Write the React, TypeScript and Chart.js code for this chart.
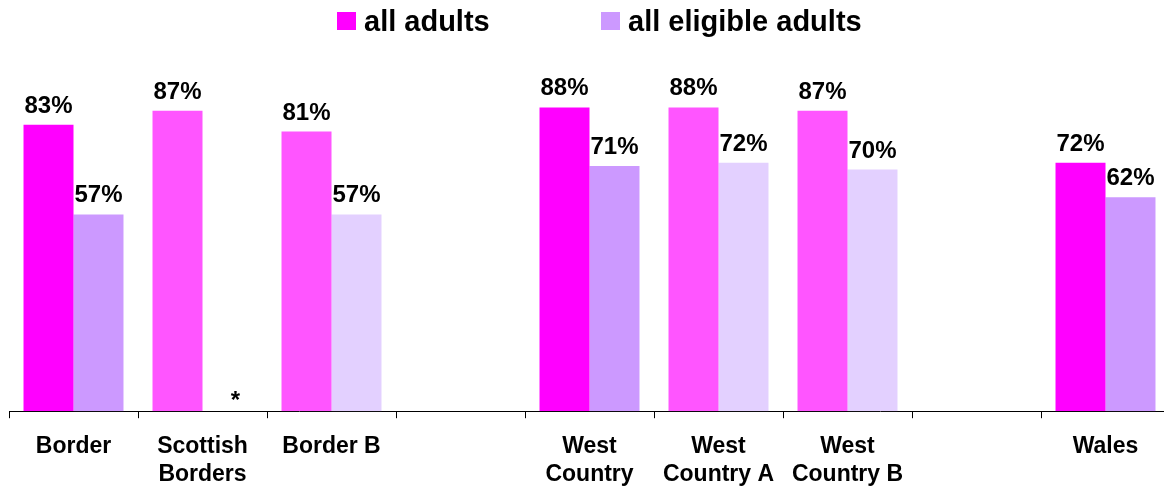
import React, { useEffect, useRef } from "react";
import { Chart, registerables } from "chart.js";

Chart.register(...registerables);

const categories: (string | string[])[] = [
  "Border",
  ["Scottish", "Borders"],
  "Border B",
  "",
  ["West", "Country"],
  ["West", "Country A"],
  ["West", "Country B"],
  "",
  "Wales",
];
const seriesNames = ["all adults", "all eligible adults"];
const allAdults: (number | null)[] = [83, 87, 81, null, 88, 88, 87, null, 72];
const eligibleAdults: (number | null)[] = [57, null, 57, null, 71, 72, 70, null, 62];
const patternedAll = [false, true, true, false, false, true, true, false, false];
const patternedEligible = [false, false, true, false, false, true, true, false, false];
const eligibleNoDataMark: (string | null)[] = [null, "*", null, null, null, null, null, null, null];

const MAGENTA = "#FF00FF";
const LAVENDER = "#CC99FF";
const MAGENTA_LIGHT = "#FF55FF";
const LAVENDER_LIGHT = "#E3D0FF";
const FONT = "'Liberation Sans', Arial, Helvetica, sans-serif";

const valueLabels = {
  id: "valueLabels",
  afterDatasetsDraw(chart: any) {
    const ctx = chart.ctx as CanvasRenderingContext2D;
    const yScale = chart.scales.y;
    ctx.save();
    ctx.font = `bold 24px ${FONT}`;
    ctx.fillStyle = "#000";
    ctx.textAlign = "center";
    ctx.textBaseline = "alphabetic";
    chart.data.datasets.forEach((ds: any, di: number) => {
      const meta = chart.getDatasetMeta(di);
      meta.data.forEach((el: any, i: number) => {
        const v = ds.data[i];
        if (v == null) return;
        ctx.fillText(`${v}%`, el.x, el.y - 12);
      });
    });
    const meta2 = chart.getDatasetMeta(1);
    eligibleNoDataMark.forEach((m, i) => {
      if (!m) return;
      const el = meta2.data[i];
      ctx.fillText(m, el.x + 8, yScale.getPixelForValue(0) - 3);
    });
    ctx.restore();
  },
};

const topLegend = {
  id: "topLegend",
  afterDraw(chart: any) {
    const ctx = chart.ctx as CanvasRenderingContext2D;
    const items = [
      { text: seriesNames[0], color: MAGENTA, x: 337 },
      { text: seriesNames[1], color: LAVENDER, x: 601 },
    ];
    ctx.save();
    ctx.font = `bold 29px ${FONT}`;
    ctx.textBaseline = "alphabetic";
    ctx.textAlign = "left";
    items.forEach((it) => {
      ctx.fillStyle = it.color;
      ctx.fillRect(it.x, 12, 19, 18);
      ctx.fillStyle = "#000";
      ctx.fillText(it.text, it.x + 27, 31);
    });
    ctx.restore();
  },
};

export default function App() {
  const ref = useRef<HTMLCanvasElement | null>(null);
  useEffect(() => {
    if (!ref.current) return;
    const chart = new Chart(ref.current, {
      type: "bar",
      data: {
        labels: categories,
        datasets: [
          {
            label: seriesNames[0],
            data: allAdults,
            backgroundColor: patternedAll.map((p) => (p ? MAGENTA_LIGHT : MAGENTA)),
          },
          {
            label: seriesNames[1],
            data: eligibleAdults,
            backgroundColor: patternedEligible.map((p) => (p ? LAVENDER_LIGHT : LAVENDER)),
          },
        ],
      },
      options: {
        animation: false,
        responsive: false,
        maintainAspectRatio: false,
        layout: { padding: { left: 9, right: 1, top: 66, bottom: 0 } },
        datasets: { bar: { categoryPercentage: 0.775, barPercentage: 1 } },
        plugins: { legend: { display: false }, tooltip: { enabled: false } },
        scales: {
          x: {
            grid: {
              display: true,
              drawOnChartArea: false,
              drawTicks: true,
              tickLength: 7,
              color: "#000",
              offset: true,
            },
            border: { display: true, color: "#000", width: 1 },
            ticks: {
              color: "#000",
              autoSkip: false,
              maxRotation: 0,
              minRotation: 0,
              padding: 14,
              font: { family: FONT, size: 23, weight: "bold", lineHeight: 1.235 },
            },
          },
          y: { display: false, min: 0, max: 100 },
        },
      } as any,
      plugins: [valueLabels, topLegend],
    });
    return () => chart.destroy();
  }, []);
  return (
    <div
      style={{
        position: "absolute",
        left: 0,
        top: 0,
        width: 1164,
        height: 487,
        overflow: "hidden",
        background: "#fff",
      }}
    >
      <canvas ref={ref} width={1171} height={503} style={{ display: "block" }} />
    </div>
  );
}
